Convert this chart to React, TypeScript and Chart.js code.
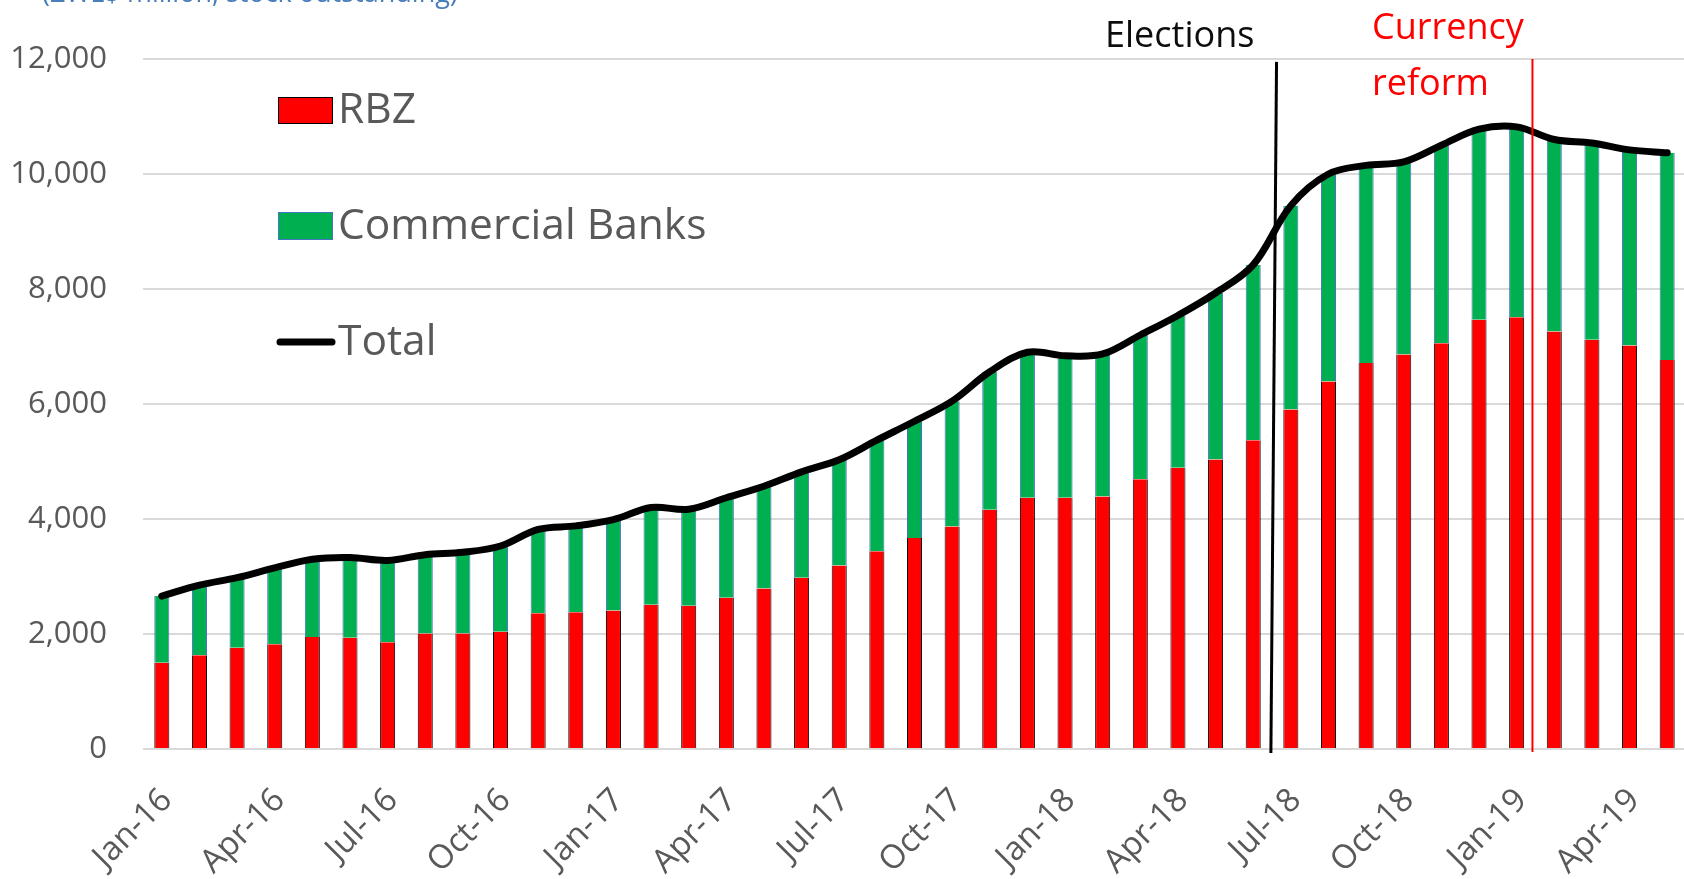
import React, { useEffect, useRef } from 'react';
import { Chart, registerables } from 'chart.js';

Chart.register(...registerables);

const months = [
  'Jan-16', 'Feb-16', 'Mar-16', 'Apr-16', 'May-16', 'Jun-16', 'Jul-16', 'Aug-16', 'Sep-16', 'Oct-16', 'Nov-16', 'Dec-16',
  'Jan-17', 'Feb-17', 'Mar-17', 'Apr-17', 'May-17', 'Jun-17', 'Jul-17', 'Aug-17', 'Sep-17', 'Oct-17', 'Nov-17', 'Dec-17',
  'Jan-18', 'Feb-18', 'Mar-18', 'Apr-18', 'May-18', 'Jun-18', 'Jul-18', 'Aug-18', 'Sep-18', 'Oct-18', 'Nov-18', 'Dec-18',
  'Jan-19', 'Feb-19', 'Mar-19', 'Apr-19', 'May-19',
];

const rbz = [
  1500, 1630, 1760, 1820, 1950, 1935, 1855, 2010, 2010, 2040, 2360, 2380,
  2410, 2510, 2490, 2630, 2790, 2980, 3190, 3440, 3670, 3870, 4160, 4370,
  4370, 4390, 4690, 4890, 5035, 5370, 5905, 6390, 6715, 6860, 7058, 7465,
  7510, 7262, 7116, 7017, 6767,
];

const commercialBanks = [
  1160, 1220, 1220, 1330, 1350, 1395, 1425, 1370, 1410, 1490, 1460, 1500,
  1580, 1690, 1680, 1740, 1780, 1840, 1840, 1930, 2030, 2180, 2400, 2530,
  2470, 2480, 2510, 2650, 2895, 3050, 3545, 3610, 3435, 3350, 3442, 3315,
  3310, 3338, 3424, 3403, 3603,
];

const total = [
  2660, 2850, 2980, 3150, 3300, 3330, 3280, 3380, 3420, 3530, 3820, 3880,
  3990, 4200, 4170, 4370, 4570, 4820, 5030, 5370, 5700, 6050, 6560, 6900,
  6840, 6870, 7200, 7540, 7930, 8420, 9450, 10000, 10150, 10210, 10500, 10780,
  10820, 10600, 10540, 10420, 10370,
];

const yTicks = [0, 2000, 4000, 6000, 8000, 10000, 12000];

// event markers in category units (index of month + fraction)
const electionsTop = 29.62;
const electionsBottom = 29.47;
const reformPos = 36.42;

const FONT = "'Open Sans', 'Noto Sans', sans-serif";

const overlayPlugin = {
  id: 'overlay',
  afterDatasetsDraw(chart: any) {
    const { ctx, scales } = chart;
    const x = scales.x;
    const y = scales.y;
    const p0 = x.getPixelForValue(0);
    const cw = x.getPixelForValue(1) - p0;
    const px = (v: number) => p0 + v * cw;
    ctx.save();
    // Elections line
    ctx.strokeStyle = '#000000';
    ctx.lineWidth = 3;
    ctx.beginPath();
    ctx.moveTo(px(electionsTop), y.getPixelForValue(11950));
    ctx.lineTo(px(electionsBottom), y.getPixelForValue(0) + 4);
    ctx.stroke();
    // Currency reform line
    ctx.strokeStyle = '#ff0000';
    ctx.lineWidth = 2;
    ctx.beginPath();
    ctx.moveTo(px(reformPos), y.getPixelForValue(12000));
    ctx.lineTo(px(reformPos), y.getPixelForValue(0) + 3);
    ctx.stroke();

    // annotation texts
    ctx.textBaseline = 'alphabetic';
    ctx.textAlign = 'left';
    ctx.font = `36px ${FONT}`;
    ctx.fillStyle = '#0d0d0d';
    ctx.fillText('Elections', 1105, 47);
    ctx.fillStyle = '#ff0000';
    ctx.fillText('Currency', 1372, 39);
    ctx.fillText('reform', 1372, 95);

    // top subtitle (cut off)
    ctx.font = `27px ${FONT}`;
    ctx.fillStyle = '#4a7ebb';
    ctx.fillText('(ZWL$ million, stock outstanding)', 42, 2);

    // legend
    ctx.textBaseline = 'middle';
    ctx.fillStyle = '#ff0000';
    ctx.fillRect(278, 97, 55, 27);
    ctx.strokeStyle = '#000000';
    ctx.lineWidth = 1;
    ctx.strokeRect(278.5, 97.5, 54, 26);
    ctx.fillStyle = '#00b050';
    ctx.fillRect(278, 212, 55, 28);
    ctx.strokeStyle = '#4472c4';
    ctx.strokeRect(278.5, 212.5, 54, 27);
    ctx.strokeStyle = '#000000';
    ctx.lineWidth = 7;
    ctx.lineCap = 'round';
    ctx.beginPath();
    ctx.moveTo(280, 342);
    ctx.lineTo(332, 342);
    ctx.stroke();
    ctx.font = `42.5px ${FONT}`;
    ctx.fillStyle = '#595959';
    ctx.fillText('RBZ', 338, 111);
    ctx.fillText('Commercial Banks', 338, 227);
    ctx.fillText('Total', 338, 343);
    ctx.restore();
  },
};

export default function App() {
  const canvasRef = useRef<HTMLCanvasElement | null>(null);

  useEffect(() => {
    document.body.style.margin = '0';
    const canvas = canvasRef.current;
    if (!canvas) return;
    const chart = new Chart(canvas, {
      type: 'bar',
      data: {
        labels: months,
        datasets: [
          {
            type: 'line',
            label: 'Total',
            data: total,
            borderColor: '#000000',
            backgroundColor: '#000000',
            borderWidth: 7,
            pointRadius: 0,
            tension: 0.35,
            stack: 'total',
            order: 0,
            borderCapStyle: 'round',
            borderJoinStyle: 'round',
          } as any,
          {
            type: 'bar',
            label: 'RBZ',
            data: rbz,
            backgroundColor: '#ff0000',
            borderColor: '#000000',
            borderWidth: { left: 1, right: 1, top: 0, bottom: 0 },
            borderSkipped: false,
            barPercentage: 0.4,
            categoryPercentage: 1,
            stack: 'bars',
            order: 1,
          } as any,
          {
            type: 'bar',
            label: 'Commercial Banks',
            data: commercialBanks,
            backgroundColor: '#00b050',
            borderColor: '#4472c4',
            borderWidth: { left: 1, right: 1, top: 0, bottom: 0 },
            borderSkipped: false,
            barPercentage: 0.4,
            categoryPercentage: 1,
            stack: 'bars',
            order: 1,
          } as any,
        ],
      },
      options: {
        responsive: false,
        animation: false,
        devicePixelRatio: 1,
        layout: { padding: { top: 59, right: 0, left: 0, bottom: 0 } },
        plugins: {
          legend: { display: false },
          tooltip: { enabled: false },
          title: { display: false },
        },
        scales: {
          x: {
            stacked: true,
            grid: { display: false },
            border: { display: false },
            ticks: {
              autoSkip: false,
              minRotation: 45,
              maxRotation: 45,
              padding: 24,
              labelOffset: 5,
              color: '#595959',
              font: { family: FONT, size: 33 },
              callback: (_v: any, i: number) => (i % 3 === 0 ? months[i] : ''),
            },
            afterFit: (s: any) => {
              s.height = 130;
              s.paddingLeft = 0;
              s.paddingRight = 0;
            },
          },
          y: {
            stacked: true,
            min: 0,
            max: 12000,
            afterBuildTicks: (s: any) => {
              s.ticks = yTicks.map((v) => ({ value: v }));
            },
            grid: { color: '#d9d9d9', lineWidth: 2, drawTicks: false },
            border: { display: false },
            ticks: {
              padding: 36,
              color: '#595959',
              font: { family: FONT, size: 31 },
              callback: (v: any) => Number(v).toLocaleString('en-US'),
            },
            afterFit: (s: any) => {
              s.width = 143;
              s.paddingTop = 0;
              s.paddingBottom = 0;
            },
          },
        },
      },
      plugins: [overlayPlugin],
    });
    return () => chart.destroy();
  }, []);

  return (
    <div style={{ position: 'absolute', left: 0, top: 0, width: 1684, height: 879, overflow: 'hidden', background: '#fff' }}>
      <canvas ref={canvasRef} width={1686} height={879} />
    </div>
  );
}
